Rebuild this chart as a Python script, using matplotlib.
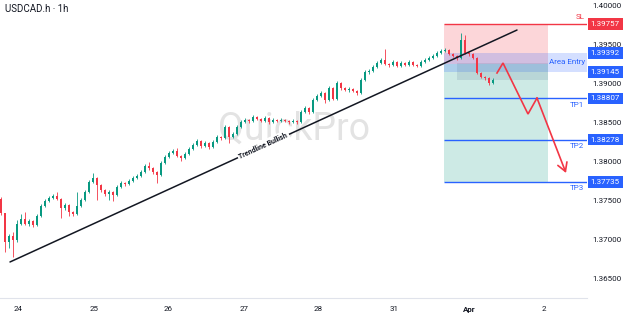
import numpy as np
import matplotlib
matplotlib.use("Agg")
import matplotlib.pyplot as plt
import matplotlib.transforms as mtransforms
from matplotlib.patches import Rectangle

plt.rcParams['font.family'] = ['Roboto', 'DejaVu Sans']

title = "USDCAD.h · 1h"

# candle data (open of each bar = previous close)
first_open = 1.37517
closes = [
    1.37337, 1.36965, 1.37042, 1.36991, 1.37196, 1.37260, 1.37196, 1.37235, 1.37183, 1.37299,
    1.37427, 1.37491, 1.37529, 1.37555, 1.37517, 1.37401, 1.37440, 1.37350, 1.37324, 1.37427,
    1.37504, 1.37606, 1.37735, 1.37786, 1.37696, 1.37632, 1.37581, 1.37606, 1.37568, 1.37670,
    1.37722, 1.37709, 1.37747, 1.37786, 1.37811, 1.37863, 1.37940, 1.37914, 1.37863, 1.37824,
    1.37978, 1.38055, 1.38106, 1.38132, 1.38068, 1.38042, 1.38094, 1.38158, 1.38209, 1.38260,
    1.38196, 1.38235, 1.38183, 1.38247, 1.38312, 1.38299, 1.38440, 1.38312, 1.38350, 1.38440,
    1.38504, 1.38529, 1.38517, 1.38568, 1.38542, 1.38517, 1.38555, 1.38504, 1.38529, 1.38517,
    1.38529, 1.38517, 1.38504, 1.38517, 1.38504, 1.38632, 1.38683, 1.38632, 1.38786, 1.38837,
    1.38876, 1.38786, 1.38940, 1.38799, 1.39004, 1.38940, 1.38914, 1.38927, 1.38901, 1.38876,
    1.39042, 1.39145, 1.39158, 1.39209, 1.39260, 1.39299, 1.39247, 1.39235, 1.39273, 1.39222,
    1.39260, 1.39235, 1.39273, 1.39235, 1.39222, 1.39273, 1.39299, 1.39324, 1.39350, 1.39389,
    1.39414, 1.39427, 1.39376, 1.39350, 1.39324, 1.39555, 1.39389, 1.39376, 1.39324, 1.39132,
    1.39081, 1.39068, 1.39004, 1.39042]
highs = [
    1.37542, 1.37337, 1.37068, 1.37094, 1.37247, 1.37324, 1.37350, 1.37260, 1.37247, 1.37324,
    1.37453, 1.37517, 1.37555, 1.37581, 1.37606, 1.37529, 1.37465, 1.37453, 1.37363, 1.37606,
    1.37529, 1.37632, 1.37760, 1.37850, 1.37799, 1.37709, 1.37645, 1.37632, 1.37619, 1.37696,
    1.37747, 1.37735, 1.37773, 1.37811, 1.37837, 1.37888, 1.37965, 1.37991, 1.37927, 1.37876,
    1.38004, 1.38081, 1.38132, 1.38158, 1.38170, 1.38081, 1.38119, 1.38183, 1.38235, 1.38286,
    1.38273, 1.38260, 1.38247, 1.38273, 1.38337, 1.38324, 1.38465, 1.38453, 1.38376, 1.38465,
    1.38529, 1.38555, 1.38542, 1.38594, 1.38581, 1.38555, 1.38581, 1.38568, 1.38555, 1.38542,
    1.38555, 1.38542, 1.38529, 1.38542, 1.38529, 1.38658, 1.38709, 1.38696, 1.38811, 1.38863,
    1.38901, 1.38888, 1.38965, 1.38953, 1.39029, 1.39017, 1.38953, 1.38953, 1.38940, 1.38914,
    1.39068, 1.39171, 1.39183, 1.39235, 1.39286, 1.39324, 1.39440, 1.39260, 1.39299, 1.39286,
    1.39286, 1.39273, 1.39299, 1.39286, 1.39247, 1.39299, 1.39324, 1.39350, 1.39376, 1.39414,
    1.39440, 1.39453, 1.39440, 1.39389, 1.39363, 1.39645, 1.39619, 1.39401, 1.39389, 1.39337,
    1.39145, 1.39094, 1.39081, 1.39068]
lows = [
    1.37312, 1.36837, 1.36888, 1.36773, 1.36965, 1.37183, 1.37183, 1.37171, 1.37158, 1.37171,
    1.37286, 1.37414, 1.37478, 1.37517, 1.37504, 1.37273, 1.37376, 1.37299, 1.37299, 1.37312,
    1.37414, 1.37491, 1.37594, 1.37722, 1.37504, 1.37606, 1.37555, 1.37504, 1.37491, 1.37555,
    1.37658, 1.37683, 1.37696, 1.37735, 1.37773, 1.37799, 1.37850, 1.37888, 1.37837, 1.37722,
    1.37811, 1.37965, 1.38042, 1.38094, 1.38055, 1.38004, 1.38029, 1.38081, 1.38145, 1.38196,
    1.38170, 1.38183, 1.38158, 1.38170, 1.38235, 1.38273, 1.38286, 1.38235, 1.38299, 1.38337,
    1.38427, 1.38491, 1.38491, 1.38504, 1.38529, 1.38504, 1.38504, 1.38478, 1.38491, 1.38504,
    1.38504, 1.38504, 1.38478, 1.38491, 1.38478, 1.38491, 1.38619, 1.38606, 1.38619, 1.38773,
    1.38824, 1.38747, 1.38773, 1.38786, 1.38786, 1.38914, 1.38901, 1.38888, 1.38888, 1.38850,
    1.38863, 1.39029, 1.39119, 1.39145, 1.39196, 1.39247, 1.39235, 1.39209, 1.39222, 1.39209,
    1.39209, 1.39222, 1.39222, 1.39222, 1.39209, 1.39209, 1.39260, 1.39286, 1.39312, 1.39337,
    1.39376, 1.39401, 1.39363, 1.39337, 1.39299, 1.39312, 1.39376, 1.39350, 1.39312, 1.39119,
    1.39068, 1.39042, 1.38978, 1.38991]

# time axis (bar index where each day starts)
day_labels = ['24', '25', '26', '27', '28', '31', 'Apr', '2']
day_ticks = [4.4, 23.2, 41.9, 60.7, 79.4, 98.2, 117.0, 135.7]
price_ticks = [1.365, 1.370, 1.375, 1.380, 1.385, 1.390, 1.395, 1.400]

# trade setup
sl_level = 1.39757
entry_top = 1.39392
entry_bottom = 1.39145
entry_price = 1.39250
tp_names = ['TP1', 'TP2', 'TP3']
tp_levels = [1.38807, 1.38278, 1.37735]
zone_start = 110.75
zone_end = 136.75
inner_start = 114
inner_top = 1.39260
inner_bottom = 1.39042

# trendline
trend_x = [2.25, 129]
trend_y = [1.36709, 1.39683]

# projected path
path_x = [124, 125.5, 131.75, 134, 141.25]
path_y = [1.39132, 1.39260, 1.38606, 1.38811, 1.37850]

GREEN = '#089981'
RED = '#f23645'
BLUE = '#2962ff'
TEXT = '#131722'

fig = plt.figure(figsize=(6.24, 3.16), dpi=100)
ax = fig.add_axes([0, 18 / 316, 587 / 624, 298 / 316])
xmax = 146.5
ax.set_xlim(-0.25, xmax)
ax.set_ylim(1.36247, 1.40068)

# candles
opens = np.array([first_open] + closes[:-1])
c = np.array(closes)
x = np.arange(len(c))
cols = np.where(c >= opens, GREEN, RED)
ax.vlines(x, lows, highs, colors=cols, lw=0.6, zorder=3)
body_h = np.maximum(np.abs(c - opens), 0.00005)
ax.bar(x, body_h, bottom=np.minimum(opens, c), width=0.72, color=cols, linewidth=0, zorder=4)

# zones
ax.add_patch(Rectangle((zone_start, entry_price), zone_end - zone_start, sl_level - entry_price,
                       fc=RED, alpha=0.2, lw=0, zorder=1))
ax.add_patch(Rectangle((zone_start, tp_levels[-1]), zone_end - zone_start, entry_price - tp_levels[-1],
                       fc=GREEN, alpha=0.2, lw=0, zorder=1))
ax.add_patch(Rectangle((zone_start, entry_bottom), xmax - zone_start, entry_top - entry_bottom,
                       fc=BLUE, alpha=0.2, lw=0, zorder=1))
ax.add_patch(Rectangle((inner_start, inner_bottom), zone_end - inner_start, inner_top - inner_bottom,
                       fc='#4a6a8a', alpha=0.15, lw=0, zorder=1))

ax.hlines(sl_level, zone_start, xmax, color=RED, lw=1, zorder=5)
ax.hlines(tp_levels, zone_start, xmax, color=BLUE, lw=1, zorder=5)

# labels at the right edge of the chart
trans = mtransforms.blended_transform_factory(ax.transAxes, ax.transData)
ax.annotate('SL', xy=(1, sl_level), xycoords=trans, xytext=(-2, 5), textcoords='offset points',
            ha='right', va='center', fontsize=5.8, color=RED)
for name, lvl in zip(tp_names, tp_levels):
    ax.annotate(name, xy=(1, lvl), xycoords=trans, xytext=(-2, -4.5), textcoords='offset points',
                ha='right', va='center', fontsize=5.8, color=BLUE)
ax.annotate('Area Entry', xy=(1, (entry_top + entry_bottom) / 2), xycoords=trans, xytext=(-1, 0),
            textcoords='offset points', ha='right', va='center', fontsize=5.8, color=BLUE)

# price scale
ax.yaxis.tick_right()
ax.set_yticks(price_ticks)
ax.set_yticklabels([f'{p:.5f}' for p in price_ticks])
ax.tick_params(axis='y', length=0, pad=3.5, labelsize=5.8, labelcolor=TEXT)
for lvl, fc in [(sl_level, RED)] + [(v, BLUE) for v in [entry_top, entry_bottom] + tp_levels]:
    ax.annotate(f'{lvl:.5f}', xy=(1, lvl), xycoords=trans, xytext=(2.6, 0), textcoords='offset points',
                ha='left', va='center', fontsize=5.8, color='white', annotation_clip=False,
                bbox=dict(boxstyle='square,pad=0.35', fc=fc, ec='none'))

# time scale
ax.set_xticks(day_ticks)
ax.set_xticklabels(day_labels)
ax.tick_params(axis='x', length=0, pad=5.5, labelsize=5.8, labelcolor=TEXT)
for t in ax.get_xticklabels():
    if t.get_text() == 'Apr':
        t.set_fontweight('bold')

for s in ['top', 'left', 'right']:
    ax.spines[s].set_visible(False)
ax.spines['bottom'].set_color('#e0e3eb')
ax.spines['bottom'].set_linewidth(0.8)

# watermark
ax.text(0.5, 0.567, 'QuickPro', transform=ax.transAxes, fontsize=27, color='#e3e3e3',
        ha='center', va='center', zorder=0)

# trendline
ax.plot(trend_x, trend_y, color=TEXT, lw=1.1, zorder=5, solid_capstyle='round')
p1 = ax.transData.transform((trend_x[0], trend_y[0]))
p2 = ax.transData.transform((trend_x[1], trend_y[1]))
angle = np.degrees(np.arctan2(p2[1] - p1[1], p2[0] - p1[0]))
ax.text(np.mean(trend_x), np.mean(trend_y), 'Trendline Bullish', rotation=angle,
        rotation_mode='anchor', ha='center', va='center', fontsize=5, fontweight='bold',
        color=TEXT, zorder=6, bbox=dict(fc='white', ec='none', pad=1.2))

# projected move
ax.plot(path_x[:-1], path_y[:-1], color=RED, lw=1.2, zorder=6, solid_joinstyle='miter')
ax.annotate('', xy=(path_x[-1], path_y[-1]), xytext=(path_x[-2], path_y[-2]),
            arrowprops=dict(arrowstyle='->,head_length=0.6,head_width=0.35', color=RED, lw=1.2,
                            shrinkA=0, shrinkB=0), zorder=6)

fig.text(5 / 624, 1 - 9 / 316, title, fontsize=7, color=TEXT, ha='left', va='center')

fig.savefig('out.png', dpi=100, facecolor='white')
